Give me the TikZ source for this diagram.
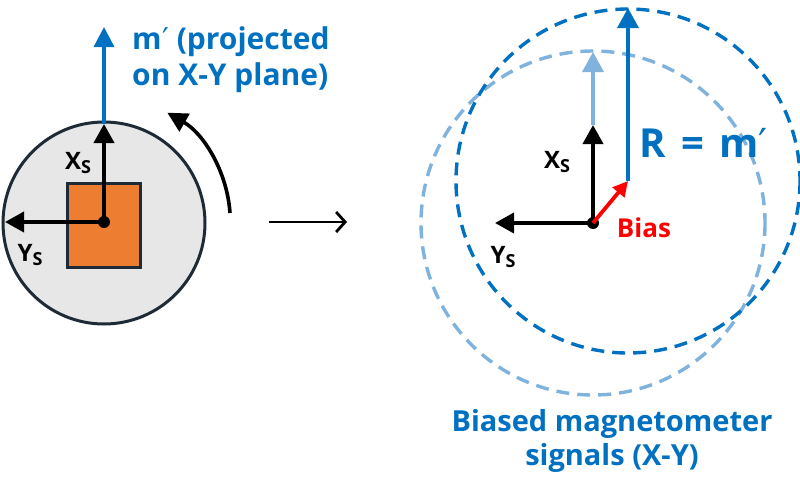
\documentclass[tikz,border=0pt]{standalone}
\usepackage{fontspec}
\setmainfont{Open Sans}
\newfontfamily\dvs{DejaVu Sans}
\usetikzlibrary{arrows.meta}
\definecolor{mblue}{HTML}{0070C0}
\definecolor{lblue}{HTML}{7FB3DE}
\definecolor{dborder}{HTML}{1E2A36}
\definecolor{orng}{HTML}{ED7D31}
\definecolor{lgray}{HTML}{E7E7E7}
\definecolor{bred}{HTML}{FF0000}
\newcommand{\subS}[1]{#1\raisebox{-0.35ex}{\fontsize{18}{18}\selectfont S}}
\newcommand{\prm}{{\dvs\mdseries\kern0.5pt′}}
\tikzset{
  axisarrow/.style={line width=3.8pt, -{Triangle[length=19pt,width=20pt]}},
  lbl/.style={font=\fontsize{24}{28}\selectfont\bfseries, inner sep=0pt},
  bluelbl/.style={font=\fontsize{30}{36}\selectfont\bfseries, text=mblue, inner sep=0pt, align=center},
  dot/.style={circle, fill=black, inner sep=0pt, minimum size=12pt},
  dashcircle/.style={line width=3.4pt, dash pattern=on 13pt off 8pt},
}
\begin{document}
\begin{tikzpicture}[x=1pt,y=-1pt]
\useasboundingbox[fill=white] (0,0) rectangle (800,479);
% ---------- left: sensor ----------
\node[circle, draw=dborder, fill=lgray, line width=3pt, minimum size=202pt, inner sep=0pt] (disk) at (104,223) {};
\node[draw=dborder, fill=orng, line width=3pt, minimum width=73pt, minimum height=84pt, inner sep=0pt] (chip) at (104,225) {};
\node[dot] (o1) at (104,222) {};
\coordinate (x1) at (104,124);
\coordinate (m1) at (104,27);
\coordinate (y1) at (5,222);
\draw[line width=3.4pt, mblue, -{Triangle[length=20pt,width=20pt]}] (x1) -- (m1);
\draw[axisarrow] (o1.center) -- (x1);
\draw[axisarrow] (o1.center) -- (y1);
\node[lbl] (xs1) at (78,163) {\subS{X}};
\node[lbl] (ys1) at (30,255) {\subS{Y}};
\node[bluelbl, anchor=north west, align=left] (mlab) at (132,27) {m\prm{} (projected\\on X-Y plane)};
% rotation arrow
\coordinate (rs) at (230,213);
\draw[line width=3.6pt, -{Triangle[length=20pt,width=20pt]}] (rs) arc[start angle=-4, end angle=-60, radius=126];
% middle arrow
\coordinate (ma) at (269,222);
\coordinate (mb) at (347,222);
\draw[line width=2.8pt, -{Straight Barb[length=9pt,width=20pt]}] (ma) -- (mb);
% ---------- right: biased signals ----------
\coordinate (c2) at (593,223);
\coordinate (b2) at (628,181);
\draw[dashcircle, lblue] (c2) circle[radius=172];
\draw[dashcircle, mblue] (b2) circle[radius=172];
\node[dot] (o2) at (c2) {};
\coordinate (x2) at (593,125);
\coordinate (l2) at (593,52);
\coordinate (y2) at (495,223);
\coordinate (t2) at (628,8);
\draw[line width=3.4pt, lblue, -{Triangle[length=20pt,width=21pt]}] (x2) -- (l2);
\draw[line width=3.4pt, mblue, -{Triangle[length=20pt,width=21pt]}] (b2) -- (t2);
\draw[axisarrow] (o2.center) -- (x2);
\draw[axisarrow] (o2.center) -- (y2);
\draw[line width=3.8pt, bred, -{Triangle[length=15pt,width=15pt]}] (o2.center) -- (b2);
\node[lbl] (xs2) at (557,162) {\subS{X}};
\node[lbl] (ys2) at (503,257) {\subS{Y}};
\node[font=\fontsize{26}{30}\selectfont\bfseries, text=bred, inner sep=0pt] (bias) at (644,228) {Bias};
\node[font=\fontsize{40}{44}\selectfont\bfseries, text=mblue, inner sep=0pt] (rlab) at (704,143) {R\hspace{15pt}=\hspace{15pt}m\prm};
\node[bluelbl, font=\fontsize{29}{34}\selectfont\bfseries] (blab) at (612,441) {Biased magnetometer\\signals (X-Y)};
\end{tikzpicture}
\end{document}
